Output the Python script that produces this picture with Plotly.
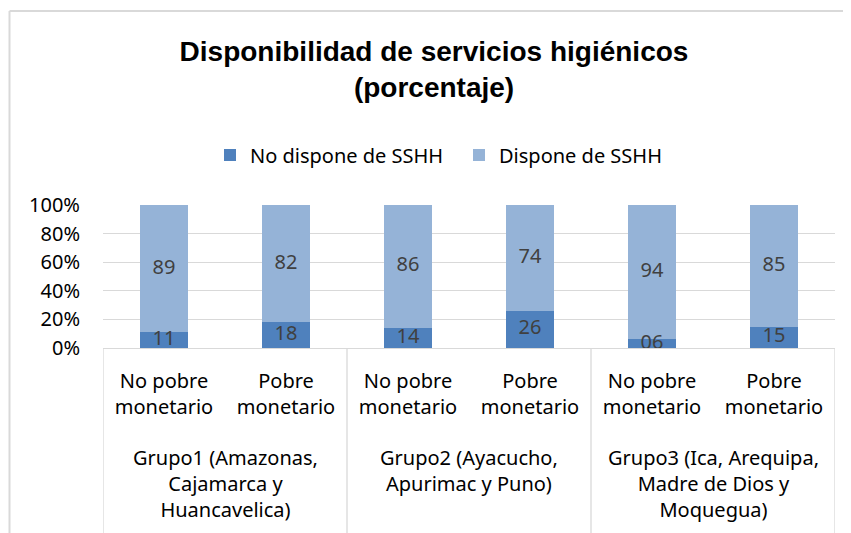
import plotly.graph_objects as go

groups = ["Grupo1 (Amazonas,<br>Cajamarca y<br>Huancavelica)",
          "Grupo2 (Ayacucho,<br>Apurimac y Puno)",
          "Grupo3 (Ica, Arequipa,<br>Madre de Dios y<br>Moquegua)"]
subcats = ["No pobre<br>monetario", "Pobre<br>monetario"] * 3
group_of_bar = [0, 0, 1, 1, 2, 2]
no_dispone = [11, 18, 14, 26, 6, 15]
dispone = [89, 82, 86, 74, 94, 85]
no_dispone_text = ["11", "18", "14", "26", "06", "15"]
dispone_text = ["89", "82", "86", "74", "94", "85"]
y_ticks = [0, 20, 40, 60, 80, 100]

DARK = "#4F81BD"
LIGHT = "#95B3D7"
GRID = "#d9d9d9"
FONT = "Noto Sans, DejaVu Sans, sans-serif"
TXT = "#000000"
LBL = "#404040"

OFF = 8  # page body margin
SW, SH = 851, 533  # screen size
W, H = SW - OFF, SH - OFF
# plot area in screen coords
PL, PR, PT, PB = 103, 835, 205, 348
L, T = PL - OFF, PT - OFF
R, B = W - (PR - OFF), H - (PB - OFF)
ph = H - T - B
pw = W - L - R

def py(s):  # screen y -> paper y
    return (PB - s) / ph

def px(s):  # screen x -> paper x
    return (s - PL) / pw

x = list(range(len(subcats)))

fig = go.Figure()
fig.add_trace(go.Bar(x=x, y=no_dispone, name="No dispone de SSHH",
                     marker=dict(color=DARK, line=dict(width=0)),
                     width=0.395, hoverinfo="y"))
fig.add_trace(go.Bar(x=x, y=dispone, name="Dispone de SSHH",
                     marker=dict(color=LIGHT, line=dict(width=0)),
                     width=0.395, hoverinfo="y"))

# data labels centred in each segment
mid_dark = [v / 2 for v in no_dispone]
mid_light = [a + b / 2 for a, b in zip(no_dispone, dispone)]
fig.add_trace(go.Scatter(x=x + x, y=mid_dark + mid_light, mode="text",
                         text=no_dispone_text + dispone_text,
                         textfont=dict(family=FONT, size=20, color=LBL),
                         showlegend=False, hoverinfo="skip", cliponaxis=False))

# group labels and dividers
for gi, g in enumerate(groups):
    members = [i for i, gg in enumerate(group_of_bar) if gg == gi]
    cx = sum(members) / len(members)
    fig.add_annotation(x=cx, xref="x", y=py(442), yref="paper", yanchor="top",
                       text=g, showarrow=False, align="center",
                       font=dict(family=FONT, size=20, color=TXT))
bounds = [-0.5] + [i + 0.5 for i in range(len(group_of_bar) - 1)
                   if group_of_bar[i] != group_of_bar[i + 1]] + [len(group_of_bar) - 0.5]
for b in bounds:
    fig.add_shape(type="line", xref="x", yref="paper", x0=b, x1=b,
                  y0=0, y1=py(SH + 5), line=dict(color=GRID, width=1.3))

# outer chart border (top and left)
fig.add_shape(type="line", xref="paper", yref="paper", x0=px(9.5), x1=px(SW + 5),
              y0=py(11), y1=py(11), line=dict(color=GRID, width=2))
fig.add_shape(type="line", xref="paper", yref="paper", x0=px(9.5), x1=px(9.5),
              y0=py(11), y1=py(SH + 5), line=dict(color=GRID, width=2))

fig.update_layout(
    width=W, height=H,
    margin=dict(l=L, r=R, t=T, b=B, autoexpand=False),
    paper_bgcolor="white", plot_bgcolor="white",
    barmode="stack",
    title=dict(text="<b>Disponibilidad de servicios higiénicos<br>(porcentaje)</b>",
               x=(434 - OFF) / W, xanchor="center", xref="container",
               y=1 - 53 / H, yanchor="top", yref="container",
               font=dict(family="Liberation Sans, Arial, sans-serif",
                         size=28, color=TXT)),
    legend=dict(orientation="h", x=px(210), xanchor="left", y=py(155), yanchor="middle",
                font=dict(family=FONT, size=20, color=TXT),
                bgcolor="rgba(0,0,0,0)", traceorder="normal",
                entrywidth=204, entrywidthmode="pixels"),
    showlegend=True,
    xaxis=dict(range=[-0.5, len(x) - 0.5], tickmode="array", tickvals=x, ticktext=subcats,
               showgrid=False, zeroline=False, showline=True, linecolor=GRID, linewidth=1.3,
               ticks="", ticklabelstandoff=15,
               tickfont=dict(family=FONT, size=20, color=TXT), fixedrange=True),
    yaxis=dict(range=[0, 100], tickmode="array", tickvals=y_ticks,
               ticktext=[f"{v}%" for v in y_ticks],
               showgrid=True, gridcolor=GRID, gridwidth=1.3, zeroline=False,
               showline=False, ticks="", ticklabelstandoff=22,
               tickfont=dict(family=FONT, size=20, color=TXT), fixedrange=True),
    font=dict(family=FONT, color=TXT),
)

fig.write_html("out.html")
